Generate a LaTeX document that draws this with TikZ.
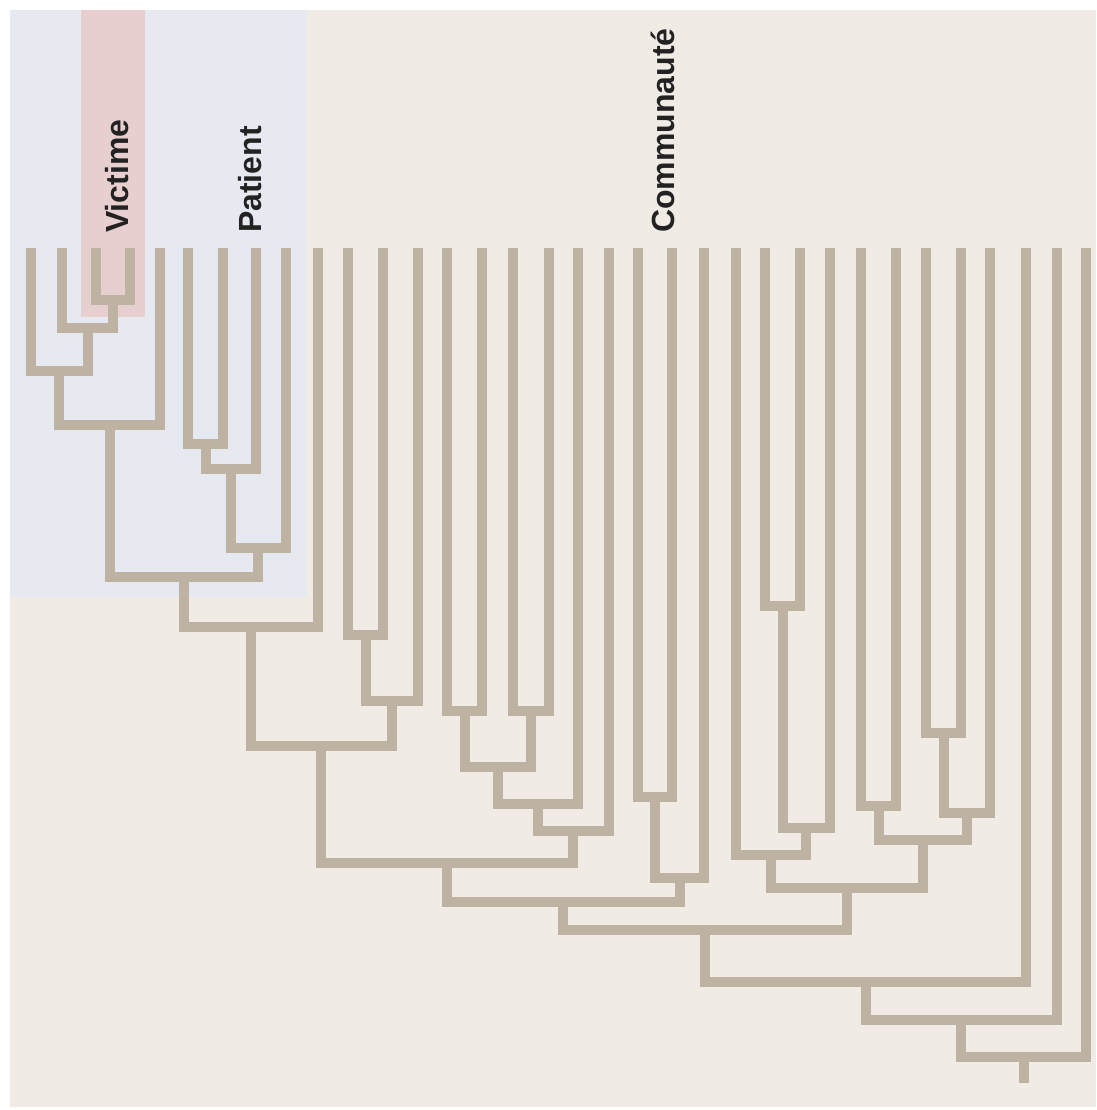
\documentclass[tikz,border=0pt]{standalone}
\usepackage{fontspec}
\setmainfont{Liberation Sans}
\usetikzlibrary{calc}

\definecolor{branchcol}{RGB}{190,179,163}
\definecolor{commbg}{RGB}{240,235,228}
\definecolor{patbg}{RGB}{230,234,240}
\definecolor{vicbg}{RGB}{231,206,207}
\definecolor{labelcol}{RGB}{34,34,34}

\tikzset{
	branch/.style={draw=branchcol, line width=10pt, line cap=butt, line join=miter},
	grouplabel/.style={rotate=90, anchor=base west, inner sep=0pt, text=labelcol,
		font=\bfseries\fontsize{32}{38}\selectfont}
}

\begin{document}
\begin{tikzpicture}[x=1pt, y=-1pt]
		\useasboundingbox (0,0) rectangle (1096,1110);
		% Background areas: community, patient group, victim strip
		\fill[commbg] (10,10) rectangle (1096,1107);
		\fill[patbg] (10,10) rectangle (307,597);
		\fill[vicbg] (81,10) rectangle (145,317);

		% Group labels
		\node[grouplabel] (victime) at (128,233) {Victime};
		\node[grouplabel] (patient) at (261,233) {Patient};
		\node[grouplabel] (communaute) at (674,233) {Communauté};

		% Tips of the tree, left to right
		\foreach \x [count=\i] in {31,62,96,130,160,188,223,256,286,318,
				348,383,418,447,482,513,549,578,609,638,672,704,736,765,
				800,830,861,896,926,961,990,1026,1057,1086}
			\coordinate (l\i) at (\x,248);

		% Joins: new branch / left child / right child / height
		\foreach \p/\a/\b/\h in {a1/l3/l4/300, a2/l2/a1/328, a3/l1/a2/371,
				a4/a3/l5/425, b1/l6/l7/444, b2/b1/l8/469, b3/b2/l9/548,
				c1/a4/b3/577, c2/c1/l10/627, d1/l11/l12/635, d2/d1/l13/701,
				c3/c2/d2/746, e1/l14/l15/711, e2/l16/l17/711, e3/e1/e2/767,
				e4/e3/l18/804, e5/e4/l19/831, c4/c3/e5/863, f1/l20/l21/797,
				f2/f1/l22/878, c5/c4/f2/902, g1/l24/l25/606, g2/g1/l26/828,
				g3/l23/g2/855, h1/l27/l28/806, h2/l29/l30/733, h3/h2/l31/813,
				h4/h1/h3/840, g4/g3/h4/888, c6/c5/g4/930, r1/c6/l32/982,
				r2/r1/l33/1020, r3/r2/l34/1057} {
			\draw[branch] (\a) -- (\a |- 0,\h) coordinate (\p-l)
				-- (\b |- 0,\h) coordinate (\p-r) -- (\b);
			\coordinate (\p) at ($(\p-l)!.5!(\p-r)$);
		}

		% Stub under the root
		\draw[branch] (r3) -- (r3 |- 0,1083) coordinate (root);
	\end{tikzpicture}
\end{document}
